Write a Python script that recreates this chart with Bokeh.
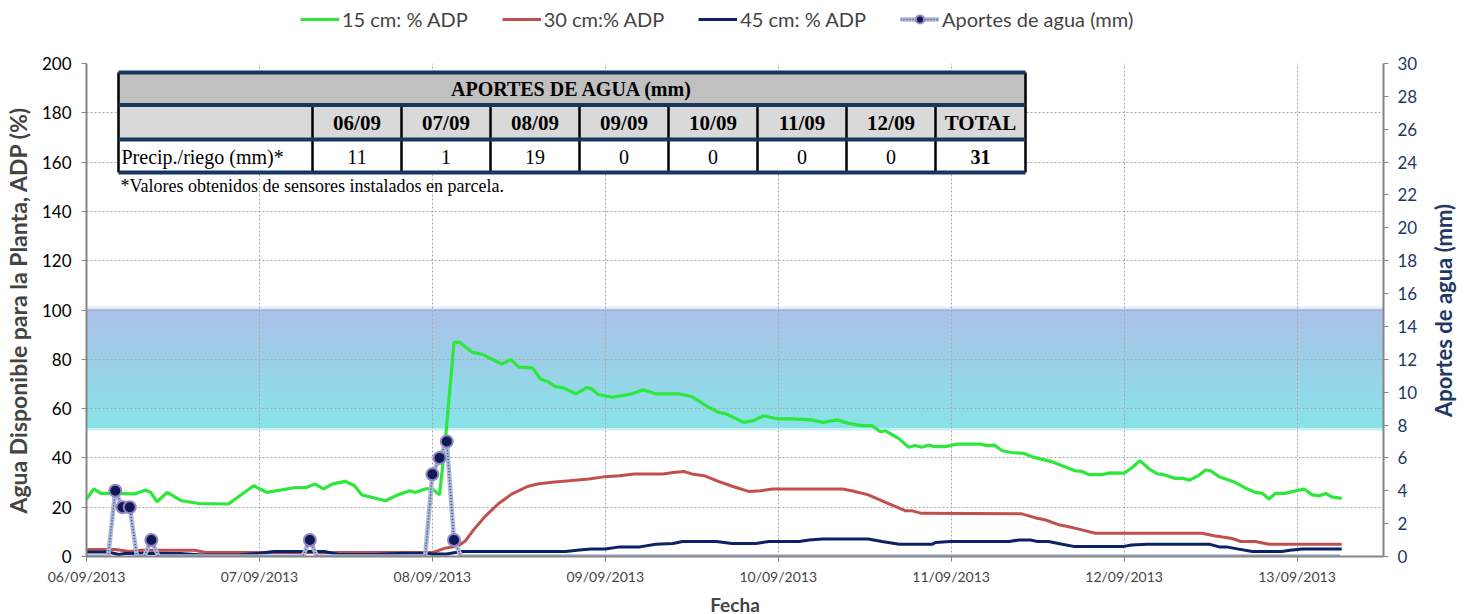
import math
from bokeh.plotting import figure
from bokeh.layouts import column, row
from bokeh.models import Range1d, LinearAxis, Legend, LegendItem, FixedTicker
from bokeh.core.properties import value
from bokeh.embed import file_html
from bokeh.resources import INLINE

# ---------------- data ----------------
# hours since 06/09/2013 00:00
t15 = [0, 1, 2, 4, 6.7, 8.2, 8.9, 9.8, 11.2, 13.2, 15.6, 19.7, 23.2, 25, 27.1, 29, 30.5, 31.7, 32.9, 34.1,
       35.9, 37.2, 38.2, 41.5, 43.2, 44.9, 45.6, 47, 48, 49, 49.8, 51, 51.8, 53.5, 55, 57.6, 58.9, 60, 61.9, 63,
       64, 65, 66.2, 67.9, 69.5, 70.1, 71, 73, 75.7, 77.3, 79, 82.2, 84, 86.2, 87.7, 88.8, 91.2, 92.4, 94, 96,
       97.9, 100.7, 102.2, 104.2, 105.8, 107.6, 109, 110.2, 110.9, 112.8, 114.1, 115, 115.9, 116.9, 117.6, 119.2,
       120.8, 124.1, 125, 126, 127.1, 128.4, 130.1, 131.5, 133.8, 135.4, 137.2, 138.2, 139.1, 140.9, 142.1, 144,
       145, 146.2, 147.5, 148.6, 149.5, 151.1, 152, 153.1, 154.3, 155.3, 156, 157.2, 159.4, 160.8, 162.2, 163.2,
       164.1, 165, 166.3, 167.5, 169, 170.1, 171.1, 172, 172.8, 174.2]
v15 = [23.3, 27.4, 25.6, 25.6, 25.4, 27, 26, 22.2, 26, 22.6, 21.5, 21.3, 28.7, 26, 27, 28, 28, 29.4, 27.4, 29.4,
       30.5, 28.7, 25, 22.6, 25, 26.7, 26, 27.4, 27.4, 25, 47, 86.9, 86.9, 82.9, 81.9, 78.1, 79.9, 76.8, 76.5, 72,
       71, 69, 68.4, 66, 68.6, 68, 65.7, 64.6, 66, 67.6, 66, 66, 64.9, 60.8, 58.5, 57.8, 54.4, 55, 57.1, 55.8,
       55.8, 55.4, 54.4, 55.4, 54, 53.1, 53.1, 50.6, 51, 47.7, 44.3, 45, 44.3, 45.2, 44.6, 44.6,
       45.6, 45.6, 45, 45.2, 42.9, 42.2, 41.8, 40.2, 38.6, 36.8, 34.8, 34.5, 33.2, 33.2, 33.9, 33.8,
       35.8, 38.9, 35.5, 33.5, 33.2, 31.7, 31.8, 31, 32.8, 35.1, 34.8, 32.4, 30.1, 27.8, 26, 25.6,
       23.3, 25.6, 25.6, 26.4, 27.4, 25, 24.6, 25.6, 24.2, 23.6]

t30 = [0, 4, 6, 7.5, 15, 16.5, 47, 48, 49.8, 51.6, 52.6, 53.8, 55.4, 57.2, 59, 61.2, 62.6, 64.6, 67, 69.7,
       72, 74, 76, 80, 81.4, 82.9, 84, 85.7, 87.7, 89.8, 91.9, 93.6, 95.2, 104.9, 106.2, 108.5, 110.9, 113.6,
       114.5, 115.9, 129.8, 130.8, 131.8, 133.1, 134.9, 136, 137.3, 140, 154.8, 156.5, 159, 160.2, 162.2, 164.1,
       174.2]
v30 = [2.8, 2.8, 2.0, 2.5, 2.5, 1.6, 1.6, 1.6, 3.4, 4.3, 6.4, 11.1, 16.5, 21.5, 25.3, 28.4, 29.4, 30.1, 30.7, 31.4,
       32.4, 32.8, 33.5, 33.5, 34.1, 34.5, 33.5, 32.8, 30.5, 28.3, 26.4, 26.7, 27.4, 27.4, 26.7, 25, 22, 18.6,
       18.6, 17.5, 17.3, 16.5, 15.6, 14.8, 12.9, 12.3, 11.4, 9.4, 9.4, 8.4, 7.3, 6.1, 6.1, 5.0,
       5.0]

t45 = [0, 3, 4.5, 5.5, 13, 16, 21, 24, 26, 33, 35, 40, 44, 47, 48, 50, 52, 66.5, 68.4, 70, 72, 74, 76.8, 79,
       81.4, 82.7, 87.4, 89.6, 92.9, 94.7, 98.9, 100.3, 102.1, 108.5, 110.4, 112.8, 117.4, 117.8, 119.9, 128,
       129.4, 131, 132, 133.5, 135.4, 137, 144, 145, 147.2, 155.8, 157.2, 158.2, 159.9, 161.8, 165.9, 167, 168.7,
       174.2]
v45 = [1.8, 1.8, 0.8, 1.3, 1.2, 0.6, 0.6, 1.3, 2.0, 2.0, 0.8, 0.8, 1.3, 1.3, 1.0, 1.0, 2.0, 2.0, 2.6, 3.0, 3.0, 3.9, 3.9, 5.0,
       5.3, 6.1, 6.1, 5.3, 5.3, 6.1, 6.1, 6.7, 7.1, 7.1, 6.1, 5.0, 5.0, 5.7, 6.1, 6.1,
       6.7, 6.7, 6.1, 6.1, 5.0, 4.1, 4.1, 4.7, 5.0, 5.0, 3.9, 3.9, 3.0, 2.0, 2.0, 2.5, 3.0,
       3.0]

# hourly water inputs (mm)
rain_hours = list(range(0, 175))
rain_event_hours = [4, 5, 6, 9, 31, 48, 49, 50, 51]
rain_event_mm = [4, 3, 3, 1, 1, 5, 6, 7, 1]
rain_mm = [rain_event_mm[rain_event_hours.index(h)] if h in rain_event_hours else 0 for h in rain_hours]

x_tick_hours = [0, 24, 48, 72, 96, 120, 144, 168]
x_tick_labels = ["06/09/2013", "07/09/2013", "08/09/2013", "09/09/2013",
                 "10/09/2013", "11/09/2013", "12/09/2013", "13/09/2013"]
y_ticks = list(range(0, 201, 20))
mm_ticks = list(range(0, 31, 2))

table_days = ["06/09", "07/09", "08/09", "09/09", "10/09", "11/09", "12/09"]
table_mm = [11, 1, 19, 0, 0, 0, 0]
table_total = 31

band_low, band_high = 52, 100.5

# ---------------- styling / layout ----------------
FONT = "Lato"
SERIF = "Liberation Serif"
GREEN, RED, NAVY = "#2BE83B", "#C0504D", "#0B2266"
AXIS_NAVY = "#1F3864"
GRID = "#A6A6A6"
AXGREY = "#868686"
RAIN_BASE, RAIN_DOT = "#AEB8D8", "#3C4C86"
MK_FILL, MK_LINE = "#0E1A55", "#9384C4"

# page pixels of the plotting area
FL, FR, FT, FB = 84, 1381, 63, 556
XMAX, YMAX, MMAX = 180, 200, 30
FW, FH = FR - FL, FB - FT
RB = 80          # total right margin (tick labels + title strip)
RB_AX = 40       # part of it used by the right axis ticks/labels
PT = 10          # top border of the main chart
TOP_H = FT - PT  # height of the legend strip


def X(px):
    return (px - FL) / FW * XMAX


def Y(py):
    return (FB - py) / FH * YMAX


# ---------------- legend strip (top) ----------------
top = figure(frame_width=FW, frame_height=TOP_H, x_range=Range1d(0, XMAX), y_range=Range1d(-1000, -999),
             output_backend="svg", toolbar_location=None, x_axis_type=None, y_axis_type=None,
             min_border_left=FL, min_border_right=RB, min_border_top=0, min_border_bottom=0)
top.outline_line_color = None
top.xgrid.visible = False
top.ygrid.visible = False
# proxies (out of the visible range) only used to draw legend glyphs
l15 = top.line(t15, v15, line_color=GREEN, line_width=3)
l30 = top.line(t30, v30, line_color=RED, line_width=3)
l45 = top.line(t45, v45, line_color=NAVY, line_width=3)
lrb = top.line(rain_hours, rain_mm, line_color=RAIN_BASE, line_width=4.5)
lrd = top.line(rain_hours, rain_mm, line_color=RAIN_DOT, line_width=1.5, line_dash="1 2")
lrm = top.scatter(rain_hours, rain_mm, size=11, fill_color=MK_FILL, line_color=MK_LINE, line_width=2)
legend = Legend(items=[
    LegendItem(label="15 cm: % ADP", renderers=[l15]),
    LegendItem(label="30 cm:% ADP", renderers=[l30]),
    LegendItem(label="45 cm: % ADP", renderers=[l45]),
    LegendItem(label="Aportes de agua (mm)", renderers=[lrb, lrd, lrm]),
], orientation="horizontal", location=(298 - FL, TOP_H - 33),
    label_text_font=FONT, label_text_font_size="20px", label_standoff=3,
    glyph_width=39, spacing=34, padding=2, margin=0,
    border_line_alpha=0, background_fill_alpha=0)
top.add_layout(legend)

# ---------------- main chart ----------------
p = figure(frame_width=FW, frame_height=FH, x_range=Range1d(0, XMAX), y_range=Range1d(0, YMAX),
           output_backend="svg", toolbar_location=None,
           min_border_left=FL, min_border_right=RB_AX, min_border_top=PT, min_border_bottom=40)
p.outline_line_color = None
p.extra_y_ranges = {"mm": Range1d(0, MMAX)}

# gradient band (optimal ADP range)
N = 60
top_c = (170, 192, 232)
bot_c = (137, 227, 232)
bl, br, bb, bt, bc = [], [], [], [], []
step = (band_high - band_low) / N
for i in range(N):
    f = i / (N - 1)
    lo = band_low + step * i
    hi = min(band_low + step * (i + 1) + step * 0.6, band_high)
    c = tuple(int(round(bot_c[k] + (top_c[k] - bot_c[k]) * f)) for k in range(3))
    bl.append(0); br.append(XMAX); bb.append(lo); bt.append(hi)
    bc.append("#%02x%02x%02x" % c)
bl += [0, 0]; br += [XMAX, XMAX]
bb += [band_high, band_low - 0.9]; bt += [band_high + 0.9, band_low]
bc += ["#E4EAF6", "#C4EFF3"]
band = p.quad(left=bl, right=br, bottom=bb, top=bt, fill_color=bc, line_color=None)
band.level = "image"

# grids
p.xgrid.ticker = FixedTicker(ticks=x_tick_hours)
p.ygrid.ticker = FixedTicker(ticks=y_ticks)
for g in (p.xgrid, p.ygrid):
    g.grid_line_color = GRID
    g.grid_line_dash = "2 2"
    g.grid_line_width = 1

# series
p.line(t15, v15, line_color=GREEN, line_width=3.2)
p.line(t30, v30, line_color=RED, line_width=3)
p.line(t45, v45, line_color=NAVY, line_width=3)

p.line(rain_hours, rain_mm, y_range_name="mm", line_color=RAIN_BASE, line_width=4.5)
p.line(rain_hours, rain_mm, y_range_name="mm", line_color=RAIN_DOT, line_width=1.5, line_dash="1 2")
mx = [h for h, m in zip(rain_hours, rain_mm) if m > 0]
my = [m for m in rain_mm if m > 0]
p.scatter(mx, my, y_range_name="mm", size=12, fill_color=MK_FILL, line_color=MK_LINE, line_width=2)

# axes
xa = p.xaxis[0]
xa.ticker = FixedTicker(ticks=x_tick_hours)
xa.major_label_overrides = {h: l for h, l in zip(x_tick_hours, x_tick_labels)}
xa.axis_label = "Fecha"

ya = p.yaxis[0]
ya.ticker = FixedTicker(ticks=y_ticks)
ya.axis_label = "Agua Disponible para la Planta, ADP (%)"

ra = LinearAxis(y_range_name="mm", ticker=FixedTicker(ticks=mm_ticks))
p.add_layout(ra, "right")

for ax in (xa, ya, ra):
    ax.axis_line_color = AXGREY
    ax.axis_line_width = 2
    ax.major_tick_line_color = AXGREY
    ax.major_tick_in = 0
    ax.major_tick_out = 5
    ax.minor_tick_line_color = None
    ax.major_label_text_font = FONT
    ax.axis_label_text_font = FONT
    ax.axis_label_text_font_style = "bold"

xa.major_label_text_font_size = "14px"
xa.major_label_standoff = 6
xa.axis_label_standoff = 5
xa.axis_label_text_font_size = "19px"
ya.major_label_text_font_size = "17px"
ya.major_label_text_color = "#000000"
ya.major_label_standoff = 10
ya.axis_label_standoff = 7
ya.axis_label_text_font_size = "23px"
ra.major_label_text_font_size = "17px"
ra.major_label_text_color = AXIS_NAVY
ra.major_label_standoff = 9

# ---------------- inset table ----------------
col_px = [116, 310, 399, 488, 577, 666, 755, 844, 933, 1023]
row_px = [72, 104.5, 139, 172]
cx = [X(c) for c in col_px]
ry = [Y(r) for r in row_px]

p.quad(left=[cx[0]], right=[cx[-1]], top=[ry[0]], bottom=[ry[1]], fill_color="#C0C0C0", line_color=None)
p.quad(left=[cx[0]], right=[cx[-1]], top=[ry[1]], bottom=[ry[2]], fill_color="#D9D9D9", line_color=None)
p.quad(left=[cx[0]], right=[cx[-1]], top=[ry[2]], bottom=[ry[3]], fill_color="#FFFFFF", line_color=None)
p.segment(x0=cx[1:-1], x1=cx[1:-1], y0=[ry[1]] * (len(cx) - 2), y1=[ry[3]] * (len(cx) - 2),
          line_color="#000000", line_width=2.5)
p.segment(x0=[cx[0], cx[-1]], x1=[cx[0], cx[-1]], y0=[ry[0]] * 2, y1=[ry[3]] * 2,
          line_color="#000000", line_width=2.5)
p.segment(x0=[cx[0]] * 4, x1=[cx[-1]] * 4, y0=ry, y1=ry, line_color="#17375E", line_width=4)

tf = value(SERIF)
fs = value("20px")
p.text(x=[(cx[0] + cx[-1]) / 2], y=[Y(88.5)], text=["APORTES DE AGUA (mm)"], text_align="center",
       text_baseline="middle", text_font=tf, text_font_size=fs, text_font_style="bold", text_color="#000000")
centers = [(cx[i] + cx[i + 1]) / 2 for i in range(1, len(cx) - 1)]
p.text(x=centers, y=[Y(122)] * len(centers), text=table_days + ["TOTAL"], text_align="center",
       text_baseline="middle", text_font=tf, text_font_size=value("21px"), text_font_style="bold",
       text_color="#000000")
p.text(x=centers[:-1], y=[Y(156)] * (len(centers) - 1), text=[str(v) for v in table_mm], text_align="center",
       text_baseline="middle", text_font=tf, text_font_size=fs, text_color="#000000")
p.text(x=[centers[-1]], y=[Y(156)], text=[str(table_total)], text_align="center",
       text_baseline="middle", text_font=tf, text_font_size=fs, text_font_style="bold", text_color="#000000")
p.text(x=[X(119)], y=[Y(156)], text=["Precip./riego (mm)*"], text_align="left",
       text_baseline="middle", text_font=tf, text_font_size=fs, text_color="#000000")
p.text(x=[X(118)], y=[Y(185)], text=["*Valores obtenidos de sensores instalados en parcela."], text_align="left",
       text_baseline="middle", text_font=tf, text_font_size=value("18px"), text_color="#000000")

# ---------------- right axis title strip ----------------
RT_W = RB - RB_AX
rt = figure(frame_width=RT_W, frame_height=FH, x_range=Range1d(0, 1), y_range=Range1d(0, YMAX),
            output_backend="svg", toolbar_location=None, x_axis_type=None, y_axis_type=None,
            min_border_left=0, min_border_right=0, min_border_top=PT, min_border_bottom=0)
rt.outline_line_color = None
rt.xgrid.visible = False
rt.ygrid.visible = False
rt.text(x=[0.5], y=[Y(310)], text=["Aportes de agua (mm)"], angle=math.pi / 2,
        text_align="center", text_baseline="middle", text_font=value(FONT),
        text_font_size=value("22px"), text_font_style="bold", text_color=AXIS_NAVY)

open("out.html", "w").write(file_html(column(top, row(p, rt)), INLINE))
